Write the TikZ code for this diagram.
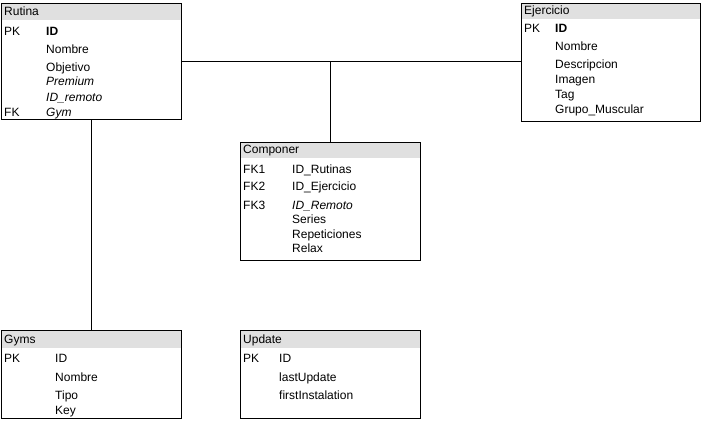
\documentclass[tikz,border=0pt]{standalone}
\usepackage{fontspec}
\setmainfont{Liberation Sans}
\begin{document}
\begin{tikzpicture}[x=1pt,y=-1pt,
  tbl/.style={draw=black,line width=0.9pt,anchor=north west,inner sep=0pt},
  txt/.style={anchor=base west,inner sep=0pt,font=\fontsize{12}{14}\selectfont},
  conn/.style={draw=black,line width=0.8pt}]
\useasboundingbox (0,0) rectangle (701,422);
% headers
\fill[black!12] (1,3) rectangle (181,20);
\fill[black!12] (521,3) rectangle (700,19);
\fill[black!12] (240,142) rectangle (420,158);
\fill[black!12] (1,330) rectangle (181,348);
\fill[black!12] (240,330) rectangle (420,348);
% tables
\node[tbl,minimum width=180pt,minimum height=116pt] (rutina) at (1,3) {};
\node[tbl,minimum width=179pt,minimum height=118pt] (ejercicio) at (521,3) {};
\node[tbl,minimum width=180pt,minimum height=118pt] (componer) at (240,142) {};
\node[tbl,minimum width=180pt,minimum height=88pt] (gyms) at (1,330) {};
\node[tbl,minimum width=180pt,minimum height=88pt] (update) at (240,330) {};
% connectors
\coordinate (j) at (rutina.east -| componer.north);
\draw[conn] (rutina.east) -- (j) -- (j -| ejercicio.west);
\draw[conn] (j) -- (componer.north);
\draw[conn] (rutina.south) -- (gyms.north);
% Rutina
\node[txt] (rt) at (4,16) {Rutina};
\node[txt] (rpk) at (4,35.5) {PK};
\node[txt] (r1) at (46,35.5) {\textbf{ID}};
\node[txt] (r2) at (46,53.5) {Nombre};
\node[txt] (r3) at (46,71.5) {Objetivo};
\node[txt] (r4) at (46,86) {\itshape Premium};
\node[txt] (r5) at (46,101.5) {\itshape ID\_remoto};
\node[txt] (rfk) at (4,116.5) {FK};
\node[txt] (r6) at (46,116.5) {\itshape Gym};
% Ejercicio
\node[txt] (et) at (524,14.5) {Ejercicio};
\node[txt] (epk) at (524,33) {PK};
\node[txt] (e1) at (555,33) {\textbf{ID}};
\node[txt] (e2) at (555,50.5) {Nombre};
\node[txt] (e3) at (555,68.5) {Descripcion};
\node[txt] (e4) at (555,83.5) {Imagen};
\node[txt] (e5) at (555,98.5) {Tag};
\node[txt] (e6) at (555,113.5) {Grupo\_Muscular};
% Componer
\node[txt] (ct) at (243,154) {Componer};
\node[txt] (cfk1) at (243,173.5) {FK1};
\node[txt] (c1) at (292,173.5) {ID\_Rutinas};
\node[txt] (cfk2) at (243,191) {FK2};
\node[txt] (c2) at (292,191) {ID\_Ejercicio};
\node[txt] (cfk3) at (243,209) {FK3};
\node[txt] (c3) at (292,209) {\itshape ID\_Remoto};
\node[txt] (c4) at (292,223) {Series};
\node[txt] (c5) at (292,238) {Repeticiones};
\node[txt] (c6) at (292,252.5) {Relax};
% Gyms
\node[txt] (gt) at (4,343.5) {Gyms};
\node[txt] (gpk) at (4,362) {PK};
\node[txt] (g1) at (55,362) {ID};
\node[txt] (g2) at (55,381) {Nombre};
\node[txt] (g3) at (55,399) {Tipo};
\node[txt] (g4) at (55,414) {Key};
% Update
\node[txt] (ut) at (243,343.5) {Update};
\node[txt] (upk) at (243,362) {PK};
\node[txt] (u1) at (279,362) {ID};
\node[txt] (u2) at (279,381) {lastUpdate};
\node[txt] (u3) at (279,399) {firstInstalation};
\end{tikzpicture}
\end{document}
